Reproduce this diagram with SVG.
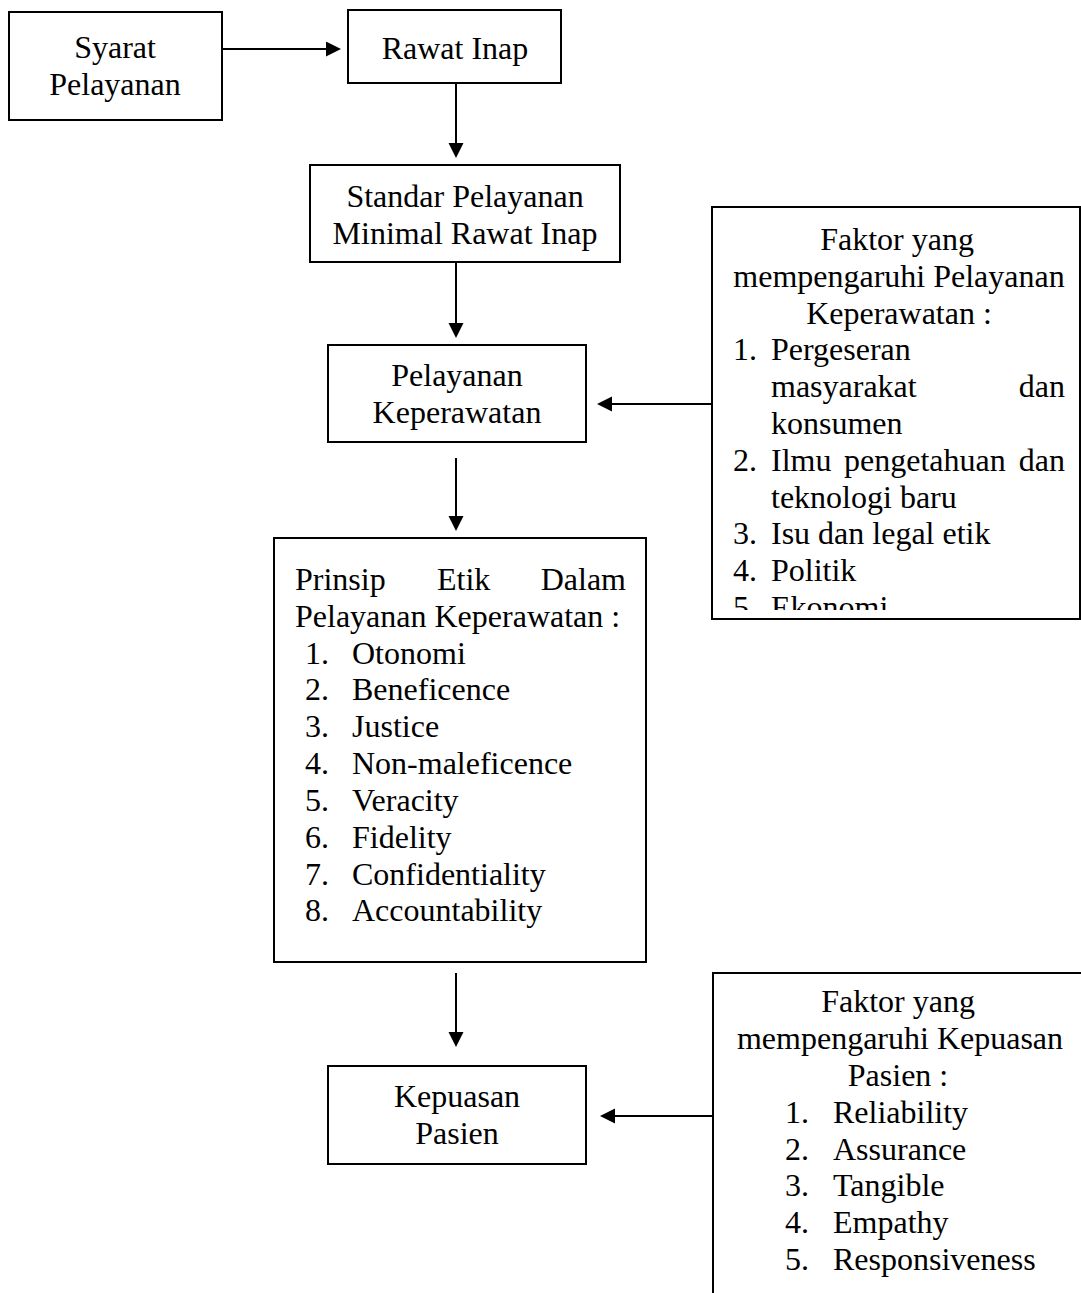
<svg xmlns="http://www.w3.org/2000/svg" width="1081" height="1293" viewBox="0 0 1081 1293">
<style>
.box{fill:#fff;stroke:#000;stroke-width:2}
.t{font-family:"Liberation Serif","Times New Roman",serif;font-size:32px;fill:#000}
.c{text-anchor:middle}
.e{text-anchor:end}
.ln{stroke:#000;stroke-width:2;fill:none;marker-end:url(#ah)}
</style>
<defs>
<marker id="ah" markerUnits="userSpaceOnUse" markerWidth="16" markerHeight="16" refX="3" refY="7.5" orient="auto">
<path d="M0,0 L15,7.5 L0,15 z" fill="#000"/>
</marker>
<clipPath id="clip1"><rect x="712" y="207" width="369" height="403"/></clipPath>
</defs>
<rect width="1081" height="1293" fill="#fff"/>

<g id="connectors">
<line class="ln" x1="222" y1="49" x2="329" y2="49"/>
<line class="ln" x1="456" y1="83" x2="456" y2="146"/>
<line class="ln" x1="456" y1="262" x2="456" y2="326"/>
<line class="ln" x1="456" y1="458" x2="456" y2="519"/>
<line class="ln" x1="456" y1="973" x2="456" y2="1035"/>
<line class="ln" x1="711" y1="404" x2="609" y2="404"/>
<line class="ln" x1="713" y1="1116" x2="612" y2="1116"/>
</g>

<g id="syarat">
<rect class="box" x="9" y="12" width="213" height="108"/>
<text class="t c" x="115" y="58">Syarat</text>
<text class="t c" x="115" y="95">Pelayanan</text>
</g>

<g id="rawat-inap">
<rect class="box" x="348" y="10" width="213" height="73"/>
<text class="t c" x="455" y="59">Rawat Inap</text>
</g>

<g id="standar">
<rect class="box" x="310" y="165" width="310" height="97"/>
<text class="t c" x="465" y="207">Standar Pelayanan</text>
<text class="t c" x="465" y="244">Minimal Rawat Inap</text>
</g>

<g id="pelayanan">
<rect class="box" x="328" y="345" width="258" height="97"/>
<text class="t c" x="457" y="386">Pelayanan</text>
<text class="t c" x="457" y="423">Keperawatan</text>
</g>

<g id="faktor-pelayanan">
<rect class="box" x="712" y="207" width="368" height="412"/>
<g clip-path="url(#clip1)">
<text class="t c" x="897" y="250">Faktor yang</text>
<text class="t c" x="899" y="287">mempengaruhi Pelayanan</text>
<text class="t c" x="899" y="324">Keperawatan :</text>
<text class="t" x="733" y="360">1.</text>
<text class="t" x="771" y="360">Pergeseran</text>
<text class="t" x="771" y="397">masyarakat</text>
<text class="t e" x="1065" y="397">dan</text>
<text class="t" x="771" y="434">konsumen</text>
<text class="t" x="733" y="471">2.</text>
<text class="t" x="771" y="471">Ilmu</text>
<text class="t" x="844" y="471">pengetahuan</text>
<text class="t e" x="1065" y="471">dan</text>
<text class="t" x="771" y="508">teknologi baru</text>
<text class="t" x="733" y="544">3.</text>
<text class="t" x="771" y="544">Isu dan legal etik</text>
<text class="t" x="733" y="581">4.</text>
<text class="t" x="771" y="581">Politik</text>
<text class="t" x="733" y="618">5.</text>
<text class="t" x="771" y="618">Ekonomi</text>
</g>
</g>

<g id="prinsip">
<rect class="box" x="274" y="538" width="372" height="424"/>
<text class="t" x="295" y="590">Prinsip</text>
<text class="t" x="437" y="590">Etik</text>
<text class="t e" x="626" y="590">Dalam</text>
<text class="t" x="295" y="627">Pelayanan Keperawatan :</text>
<text class="t" x="305" y="664">1.</text><text class="t" x="352" y="664">Otonomi</text>
<text class="t" x="305" y="700">2.</text><text class="t" x="352" y="700">Beneficence</text>
<text class="t" x="305" y="737">3.</text><text class="t" x="352" y="737">Justice</text>
<text class="t" x="305" y="774">4.</text><text class="t" x="352" y="774">Non-maleficence</text>
<text class="t" x="305" y="811">5.</text><text class="t" x="352" y="811">Veracity</text>
<text class="t" x="305" y="848">6.</text><text class="t" x="352" y="848">Fidelity</text>
<text class="t" x="305" y="885">7.</text><text class="t" x="352" y="885">Confidentiality</text>
<text class="t" x="305" y="921">8.</text><text class="t" x="352" y="921">Accountability</text>
</g>

<g id="kepuasan">
<rect class="box" x="328" y="1066" width="258" height="98"/>
<text class="t c" x="457" y="1107">Kepuasan</text>
<text class="t c" x="457" y="1144">Pasien</text>
</g>

<g id="faktor-kepuasan">
<path class="box" d="M713,1300 L713,973 L1081,973" fill="none"/>
<text class="t c" x="898" y="1012">Faktor yang</text>
<text class="t c" x="900" y="1049">mempengaruhi Kepuasan</text>
<text class="t c" x="898" y="1086">Pasien :</text>
<text class="t" x="785" y="1123">1.</text><text class="t" x="833" y="1123">Reliability</text>
<text class="t" x="785" y="1160">2.</text><text class="t" x="833" y="1160">Assurance</text>
<text class="t" x="785" y="1196">3.</text><text class="t" x="833" y="1196">Tangible</text>
<text class="t" x="785" y="1233">4.</text><text class="t" x="833" y="1233">Empathy</text>
<text class="t" x="785" y="1270">5.</text><text class="t" x="833" y="1270">Responsiveness</text>
</g>
</svg>
